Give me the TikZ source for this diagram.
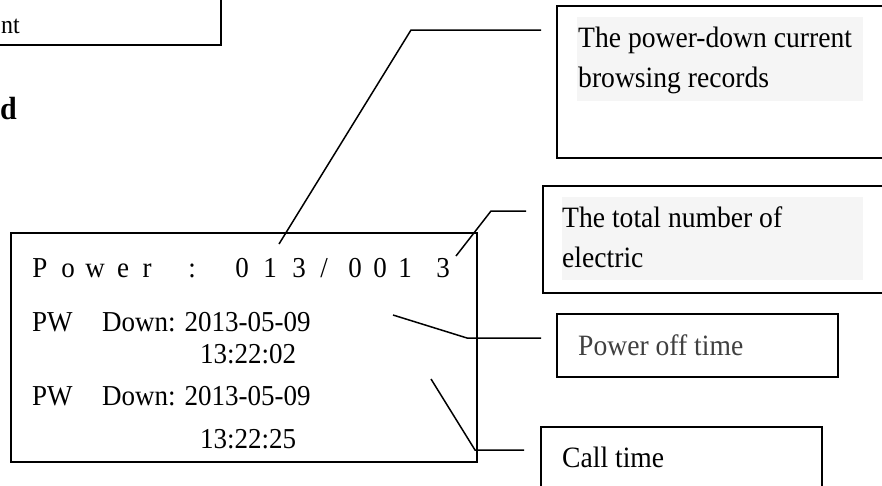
\documentclass[tikz,border=0pt]{standalone}
\usepackage{fontspec}
\setmainfont{Liberation Serif}
% glyphs in this sheet are set slightly tall
\newcommand{\tallglyphs}[1]{\scalebox{1}[1.07]{#1}}
\begin{document}
\begin{tikzpicture}[x=1pt,y=-1pt,
  frame/.style={draw=black,line width=1.8pt,rectangle,inner sep=0pt},
  lead/.style={draw=black,line width=1.5pt},
  lcd/.style={inner sep=0pt,anchor=base west,font=\fontsize{27}{27}\selectfont},
  lcdch/.style={inner sep=0pt,anchor=base,font=\fontsize{27}{27}\selectfont},
  tagbg/.style={fill=tagfill,inner sep=0pt,rectangle},
  tagtext/.style={inner sep=0pt,anchor=base west,font=\fontsize{27.6}{27.6}\selectfont},
]
\definecolor{tagfill}{RGB}{245,245,245}
\definecolor{softtext}{RGB}{64,64,64}
\useasboundingbox (0,0) rectangle (882,485);
\clip (0,0) rectangle (882,485);

% fragment of the previous section
\node[frame,minimum width=300,minimum height=120] (prev) at (71,-15) {};
\node[inner sep=0pt,anchor=base east,font=\fontsize{24}{24}\selectfont] (prevtxt) at (20,33) {\tallglyphs{nt}};
\node[inner sep=0pt,anchor=base east,font=\fontsize{30}{30}\selectfont\bfseries] (head) at (17,119) {\tallglyphs{d}};

% LCD screen
\node[frame,minimum width=466,minimum height=229] (screen) at (244,347.5) {};
\node[lcdch] (c1) at (40,277) {\tallglyphs{P}};
\node[lcdch] (c2) at (68,277) {\tallglyphs{o}};
\node[lcdch] (c3) at (95,277) {\tallglyphs{w}};
\node[lcdch] (c4) at (123,277) {\tallglyphs{e}};
\node[lcdch] (c5) at (147,277) {\tallglyphs{r}};
\node[lcdch] (c6) at (192,277) {\tallglyphs{:}};
\node[lcdch] (c7) at (242,277) {\tallglyphs{0}};
\node[lcdch] (c8) at (270,277) {\tallglyphs{1}};
\node[lcdch] (c9) at (299,277) {\tallglyphs{3}};
\node[lcdch] (c10) at (324,277) {\tallglyphs{/}};
\node[lcdch] (c11) at (355,277) {\tallglyphs{0}};
\node[lcdch] (c12) at (380,277) {\tallglyphs{0}};
\node[lcdch] (c13) at (405,277) {\tallglyphs{1}};
\node[lcdch] (c14) at (443,277) {\tallglyphs{3}};
\node[lcd] (pw1) at (32,331) {\tallglyphs{PW}};
\node[lcd] (dn1) at (102,331) {\tallglyphs{Down: 2013-05-09}};
\node[lcd] (tm1) at (200,363) {\tallglyphs{13:22:02}};
\node[lcd] (pw2) at (32,405) {\tallglyphs{PW}};
\node[lcd] (dn2) at (102,405) {\tallglyphs{Down: 2013-05-09}};
\node[lcd] (tm2) at (200,448) {\tallglyphs{13:22:25}};

% callout boxes
\node[frame,minimum width=500,minimum height=152] (recbox) at (807,82) {};
\node[tagbg,minimum width=286,minimum height=84] (recbg) at (720,59) {};
\node[tagtext] (rectxta) at (578,47) {\tallglyphs{The power-down current}};
\node[tagtext] (rectxtb) at (578,87) {\tallglyphs{browsing records}};

\node[frame,minimum width=500,minimum height=107] (totbox) at (793,239.5) {};
\node[tagbg,minimum width=301,minimum height=83] (totbg) at (712.5,238.5) {};
\node[tagtext] (tottxta) at (562,227) {\tallglyphs{The total number of}};
\node[tagtext] (tottxtb) at (562,267) {\tallglyphs{electric}};

\node[frame,minimum width=281,minimum height=63] (offbox) at (697.5,345.5) {};
\node[tagtext,text=softtext] (offtxt) at (578,355) {\tallglyphs{Power off time}};

\node[frame,minimum width=281,minimum height=120] (callbox) at (681.5,487) {};
\node[tagtext] (calltxt) at (562,467) {\tallglyphs{Call time}};

% leader lines
\coordinate (a0) at (279,244);
\coordinate (a1) at (411,30);
\coordinate (a2) at (541,30);
\draw[lead] (a0) -- (a1) -- (a2);

\coordinate (b0) at (456,256);
\coordinate (b1) at (491,211);
\coordinate (b2) at (526,211);
\draw[lead] (b0) -- (b1) -- (b2);

\coordinate (d0) at (393,315);
\coordinate (d1) at (467,338);
\coordinate (d2) at (541,338);
\draw[lead] (d0) -- (d1) -- (d2);

\coordinate (e0) at (431,379);
\coordinate (e1) at (475,450);
\coordinate (e2) at (524,450);
\draw[lead] (e0) -- (e1) -- (e2);
\end{tikzpicture}
\end{document}
